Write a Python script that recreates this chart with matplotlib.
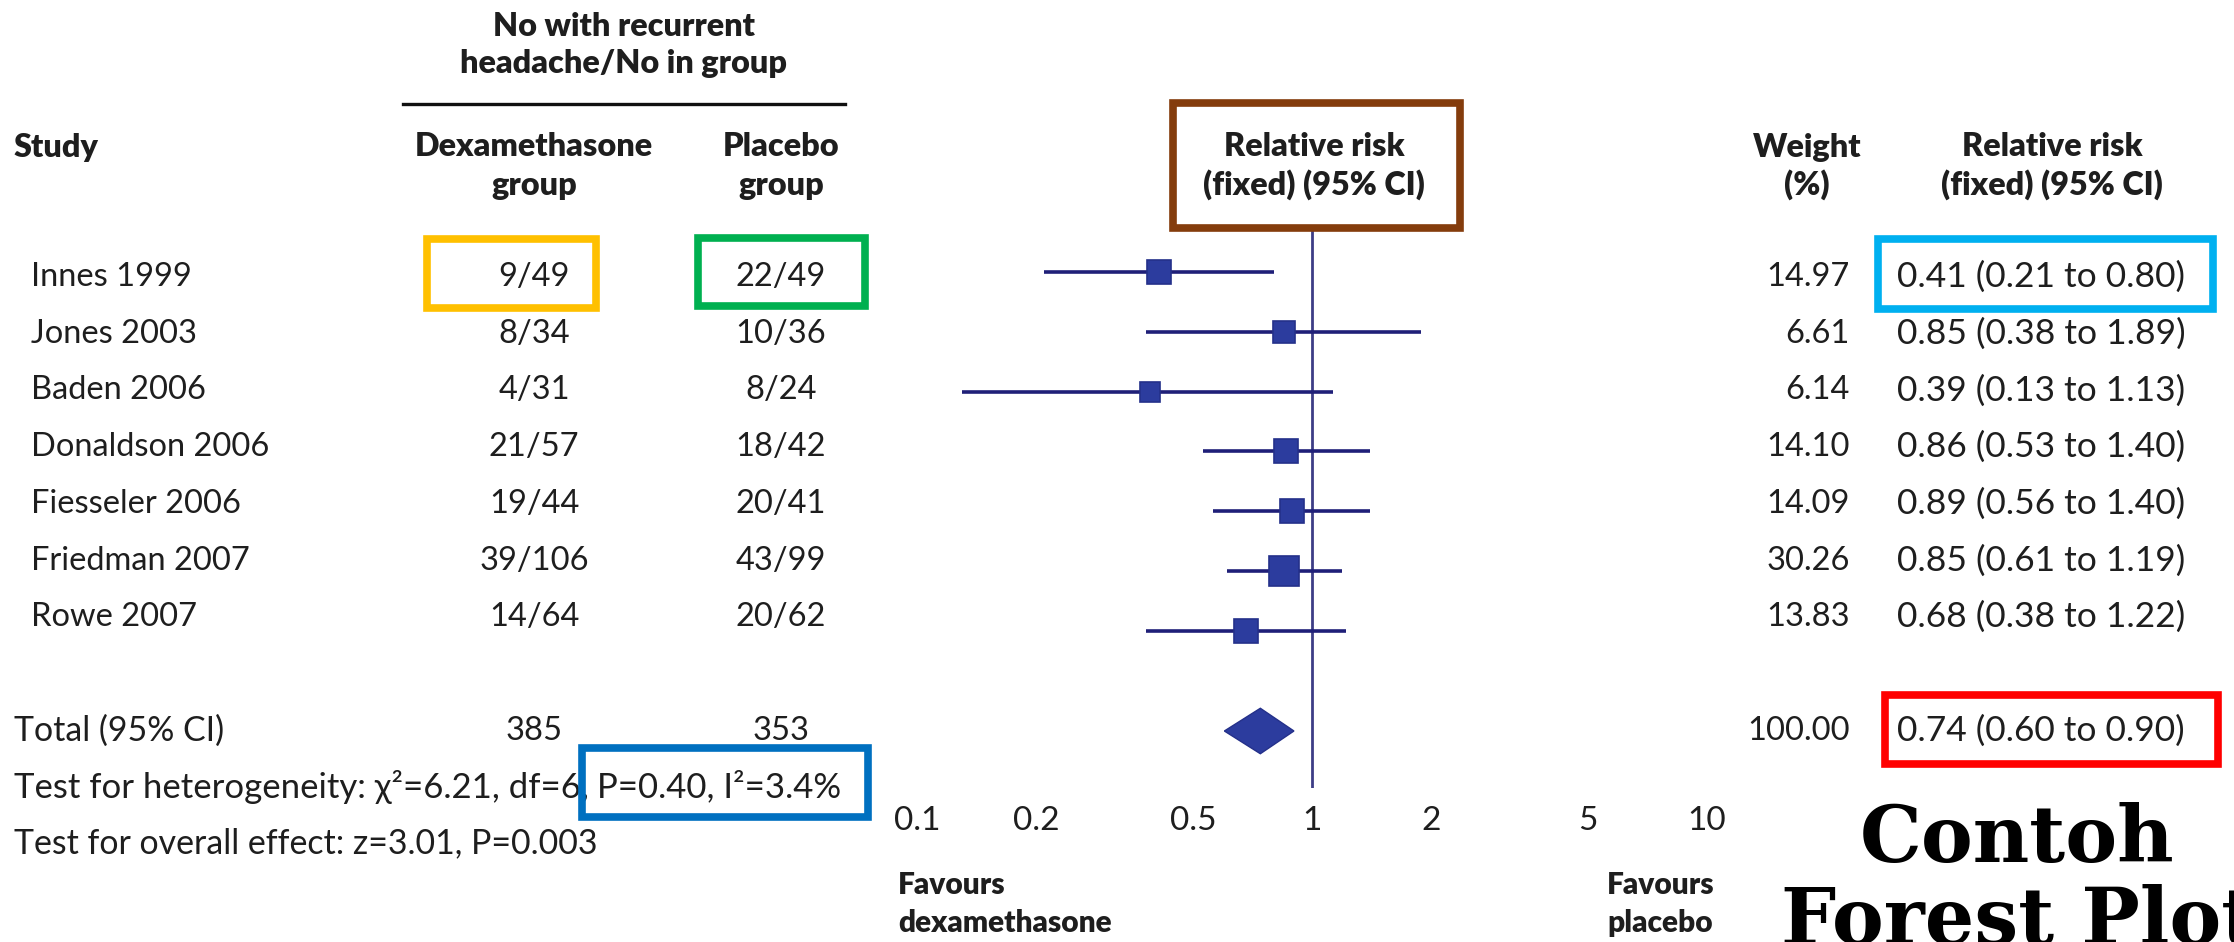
import matplotlib
matplotlib.use("Agg")
import matplotlib.pyplot as plt
from matplotlib.patches import Rectangle, Polygon
import numpy as np

# ---------------- data ----------------
studies = ["Innes 1999", "Jones 2003", "Baden 2006", "Donaldson 2006",
           "Fiesseler 2006", "Friedman 2007", "Rowe 2007"]
dexa_events = [9, 8, 4, 21, 19, 39, 14]
dexa_total = [49, 34, 31, 57, 44, 106, 64]
plac_events = [22, 10, 8, 18, 20, 43, 20]
plac_total = [49, 36, 24, 42, 41, 99, 62]
weights = [14.97, 6.61, 6.14, 14.10, 14.09, 30.26, 13.83]
rr = [0.41, 0.85, 0.39, 0.86, 0.89, 0.85, 0.68]
rr_lo = [0.21, 0.38, 0.13, 0.53, 0.56, 0.61, 0.38]
rr_hi = [0.80, 1.89, 1.13, 1.40, 1.40, 1.19, 1.22]
total_dexa = 385
total_plac = 353
total_weight = 100.00
total_rr, total_lo, total_hi = 0.74, 0.60, 0.90
tick_values = [0.1, 0.2, 0.5, 1, 2, 5, 10]
tick_labels = ["0.1", "0.2", "0.5", "1", "2", "5", "10"]

# ---------------- layout ----------------
W, H = 2234, 942
fig = plt.figure(figsize=(W / 100, H / 100), dpi=100)
fig.patch.set_facecolor("white")

FONT = ["Lato", "DejaVu Sans"]
FS = 23.5
FSB = 23.3
TXT = "#1e1e1e"
NAVY = "#1f1f78"
BLUE = "#2c3c9e"

# text rows (pixel y)
trow0, tdy = 277, 56.7
trow = lambda i: trow0 + i * tdy

# overlay axes in pixel coordinates for the table text
ax_t = fig.add_axes([0, 0, 1, 1])
ax_t.set_xlim(0, W)
ax_t.set_ylim(H, 0)
ax_t.axis("off")
ax_t.set_zorder(2)
ax_t.patch.set_alpha(0)

# forest axes
frow0, fdy = 272, 59.8
x0_px, x1_px = 917, 1707
ytop_px, ybot_px = 230, 788
ax_f = fig.add_axes([x0_px / W, 1 - ybot_px / H, (x1_px - x0_px) / W, (ybot_px - ytop_px) / H])
ax_f.set_xscale("log")
ax_f.set_xlim(0.1, 10)
ax_f.set_ylim((ybot_px - frow0) / fdy, (ytop_px - frow0) / fdy)
for s in ax_f.spines.values():
    s.set_visible(False)
ax_f.set_yticks([])
ax_f.set_xticks(tick_values)
ax_f.set_xticklabels(tick_labels)
ax_f.xaxis.set_minor_locator(matplotlib.ticker.NullLocator())
ax_f.tick_params(axis="x", length=0, pad=13, labelsize=24, labelcolor=TXT)
for lab in ax_f.get_xticklabels():
    lab.set_family(FONT)
ax_f.patch.set_alpha(0)

ax_f.axvline(1, color="#3d3d86", lw=2.0, zorder=1)
ypos = np.arange(len(studies))
for i in range(len(studies)):
    ax_f.plot([rr_lo[i], rr_hi[i]], [ypos[i], ypos[i]], color=NAVY, lw=2.6, zorder=2,
              solid_capstyle="butt")
    ms = (14 + 2.8 * np.sqrt(weights[i])) * 0.72
    ax_f.plot(rr[i], ypos[i], marker="s", ms=ms, color=BLUE, mec="#24308a", mew=1.2,
              zorder=3)
# diamond for total
total_idx = (731 - frow0) / fdy
dh = 0.38
ax_f.add_patch(Polygon([[total_lo, total_idx], [total_rr, total_idx - dh],
                        [total_hi, total_idx], [total_rr, total_idx + dh]],
                       closed=True, facecolor=BLUE, edgecolor="#24308a", lw=1, zorder=3))

def t(x, y, s, ha="left", bold=False, size=FS, **kw):
    ax_t.text(x, y, s, ha=ha, va="center", fontsize=size, color=TXT, family=FONT,
              fontweight="heavy" if bold else "normal", **kw)

# headers
t(624, 26, "No with recurrent", ha="center", bold=True, size=FSB)
t(624, 64, "headache/No in group", ha="center", bold=True, size=FSB)
ax_t.plot([403, 845], [104, 104], color="#111111", lw=2.4)
t(14, 147, "Study", bold=True, size=FSB)
t(534, 147, "Dexamethasone", ha="center", bold=True, size=FSB)
t(534, 185, "group", ha="center", bold=True, size=FSB)
t(781, 147, "Placebo", ha="center", bold=True, size=FSB)
t(781, 185, "group", ha="center", bold=True, size=FSB)
t(1314, 147, "Relative risk", ha="center", bold=True, size=FSB)
t(1314, 185, "(fixed) (95% CI)", ha="center", bold=True, size=FSB)
t(1807, 147, "Weight", ha="center", bold=True, size=FSB)
t(1807, 185, "(%)", ha="center", bold=True, size=FSB)
t(2052, 147, "Relative risk", ha="center", bold=True, size=FSB)
t(2052, 185, "(fixed) (95% CI)", ha="center", bold=True, size=FSB)

# rows
for i, name in enumerate(studies):
    y = trow(i)
    t(31, y, name)
    t(534, y, f"{dexa_events[i]}/{dexa_total[i]}", ha="center")
    t(781, y, f"{plac_events[i]}/{plac_total[i]}", ha="center")
    t(1850, y, f"{weights[i]:.2f}", ha="right", size=23.5)
    t(1897, y, f"{rr[i]:.2f} ({rr_lo[i]:.2f} to {rr_hi[i]:.2f})", size=25.5)

yt = trow(8)
t(14, yt, "Total (95% CI)", size=24.4)
t(534, yt, f"{total_dexa}", ha="center")
t(781, yt, f"{total_plac}", ha="center")
t(1850, yt, f"{total_weight:.2f}", ha="right", size=23.5)
t(1897, yt, f"{total_rr:.2f} ({total_lo:.2f} to {total_hi:.2f})", size=25.5)

t(14, 787, "Test for heterogeneity: χ²=6.21, df=6,", size=25)
t(597, 787, "P=0.40, I²=3.4%", size=25)
t(14, 843, "Test for overall effect: z=3.01, P=0.003", size=24.4)

t(898, 885, "Favours", bold=True, size=21.5)
t(898, 923, "dexamethasone", bold=True, size=21.5)
t(1607, 885, "Favours", bold=True, size=21.5)
t(1607, 923, "placebo", bold=True, size=21.5)

ax_t.text(1860, 862, "Contoh", ha="left", va="baseline", fontsize=56,
          family="DejaVu Serif", fontweight="bold", color="black")
ax_t.text(1781, 944, "Forest Plot", ha="left", va="baseline", fontsize=56,
          family="DejaVu Serif", fontweight="bold", color="black", clip_on=False)

# coloured highlight boxes
boxes = [((427, 239, 596, 308), "#FFC000"),
         ((698, 238, 865, 306), "#00B050"),
         ((1173, 103, 1460, 228), "#843C0C"),
         ((1878, 239, 2213, 309), "#00B0F0"),
         ((582, 748, 868, 817), "#0070C0"),
         ((1885, 695, 2218, 764), "#FF0000")]
for (xa, ya, xb, yb), c in boxes:
    ax_t.add_patch(Rectangle((xa, ya), xb - xa, yb - ya, fill=False, edgecolor=c, lw=5.5,
                             zorder=5))

fig.savefig("out.png", dpi=100, facecolor="white")
